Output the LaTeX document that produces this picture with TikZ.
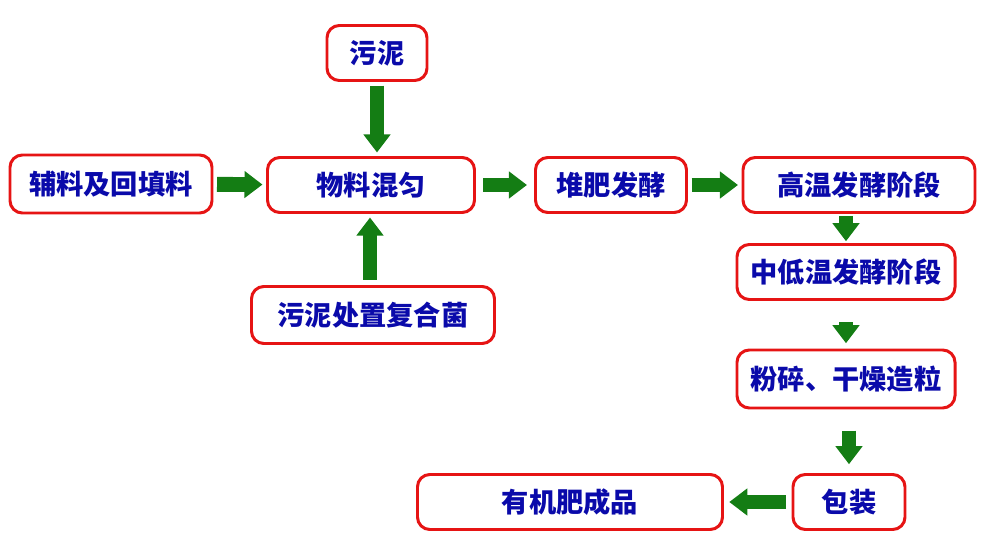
\documentclass[tikz,border=0pt]{standalone}
\usepackage{fontspec}
\newfontfamily\cjk{Noto Sans CJK SC}
\usetikzlibrary{arrows.meta}
\usetikzlibrary{calc}
\definecolor{boxred}{RGB}{230,20,20}
\definecolor{txtblue}{RGB}{10,10,170}
\definecolor{arrgreen}{RGB}{20,125,20}
\tikzset{
  stage/.style={draw=boxred, line width=1.7pt, rounded corners=7pt, fill=white,
    text=txtblue, font=\cjk\bfseries\fontsize{15.5}{17}\selectfont,
    minimum height=1.1cm, inner sep=2pt},
  flow/.style={draw=arrgreen, line width=8.5pt,
    -{Triangle[width=0.52cm,length=0.36cm]}, shorten <=2pt, shorten >=2pt}
}
\begin{document}
\begin{tikzpicture}
                \useasboundingbox (0,0) rectangle (19.82,-11);
                \node[stage, minimum width=2cm] (wn) at (7.54,-1.06) {污泥};
                \node[stage, minimum width=4.04cm, minimum height=1.16cm] (fl) at (2.22,-3.68) {辅料及回填料};
                \node[stage, minimum width=4.14cm] (hy) at (7.42,-3.70) {物料混匀};
                \node[stage, minimum width=3.02cm] (dx) at (12.22,-3.70) {堆肥发酵};
                \node[stage, minimum width=4.64cm] (gw) at (17.18,-3.70) {高温发酵阶段};
                \node[stage, minimum width=4.36cm] (zd) at (16.92,-5.44) {中低温发酵阶段};
                \node[stage, minimum width=4.86cm, minimum height=1.14cm] (fh) at (7.46,-6.30) {污泥处置复合菌};
                \node[stage, minimum width=4.36cm, minimum height=1.16cm] (fs) at (16.92,-7.58) {粉碎、干燥造粒};
                \node[stage, minimum width=2.24cm] (bz) at (16.98,-10.04) {包装};
                \node[stage, minimum width=6.1cm] (cp) at (11.40,-10.04) {有机肥成品};
                \draw[flow] (wn.south) -- (wn.south |- hy.north);
                \draw[flow, shorten <=3pt] ([xshift=-0.06cm]fh.north) -- ([xshift=-0.06cm]fh.north |- hy.south);
                \draw[flow] (fl) -- (hy);
                \draw[flow, shorten <=4pt, shorten >=4pt] (hy) -- (dx);
                \draw[flow] (dx) -- (gw);
                \draw[flow, shorten <=1pt, shorten >=1pt] (gw.south -| zd) -- (zd);
                \draw[flow, shorten <=12pt, shorten >=3pt] (zd) -- (fs);
                \draw[flow, shorten <=12pt, shorten >=5pt] (fs.south -| bz) -- (bz);
                \draw[flow, shorten <=3pt, shorten >=3pt] (bz) -- (cp);
\end{tikzpicture}
\end{document}
